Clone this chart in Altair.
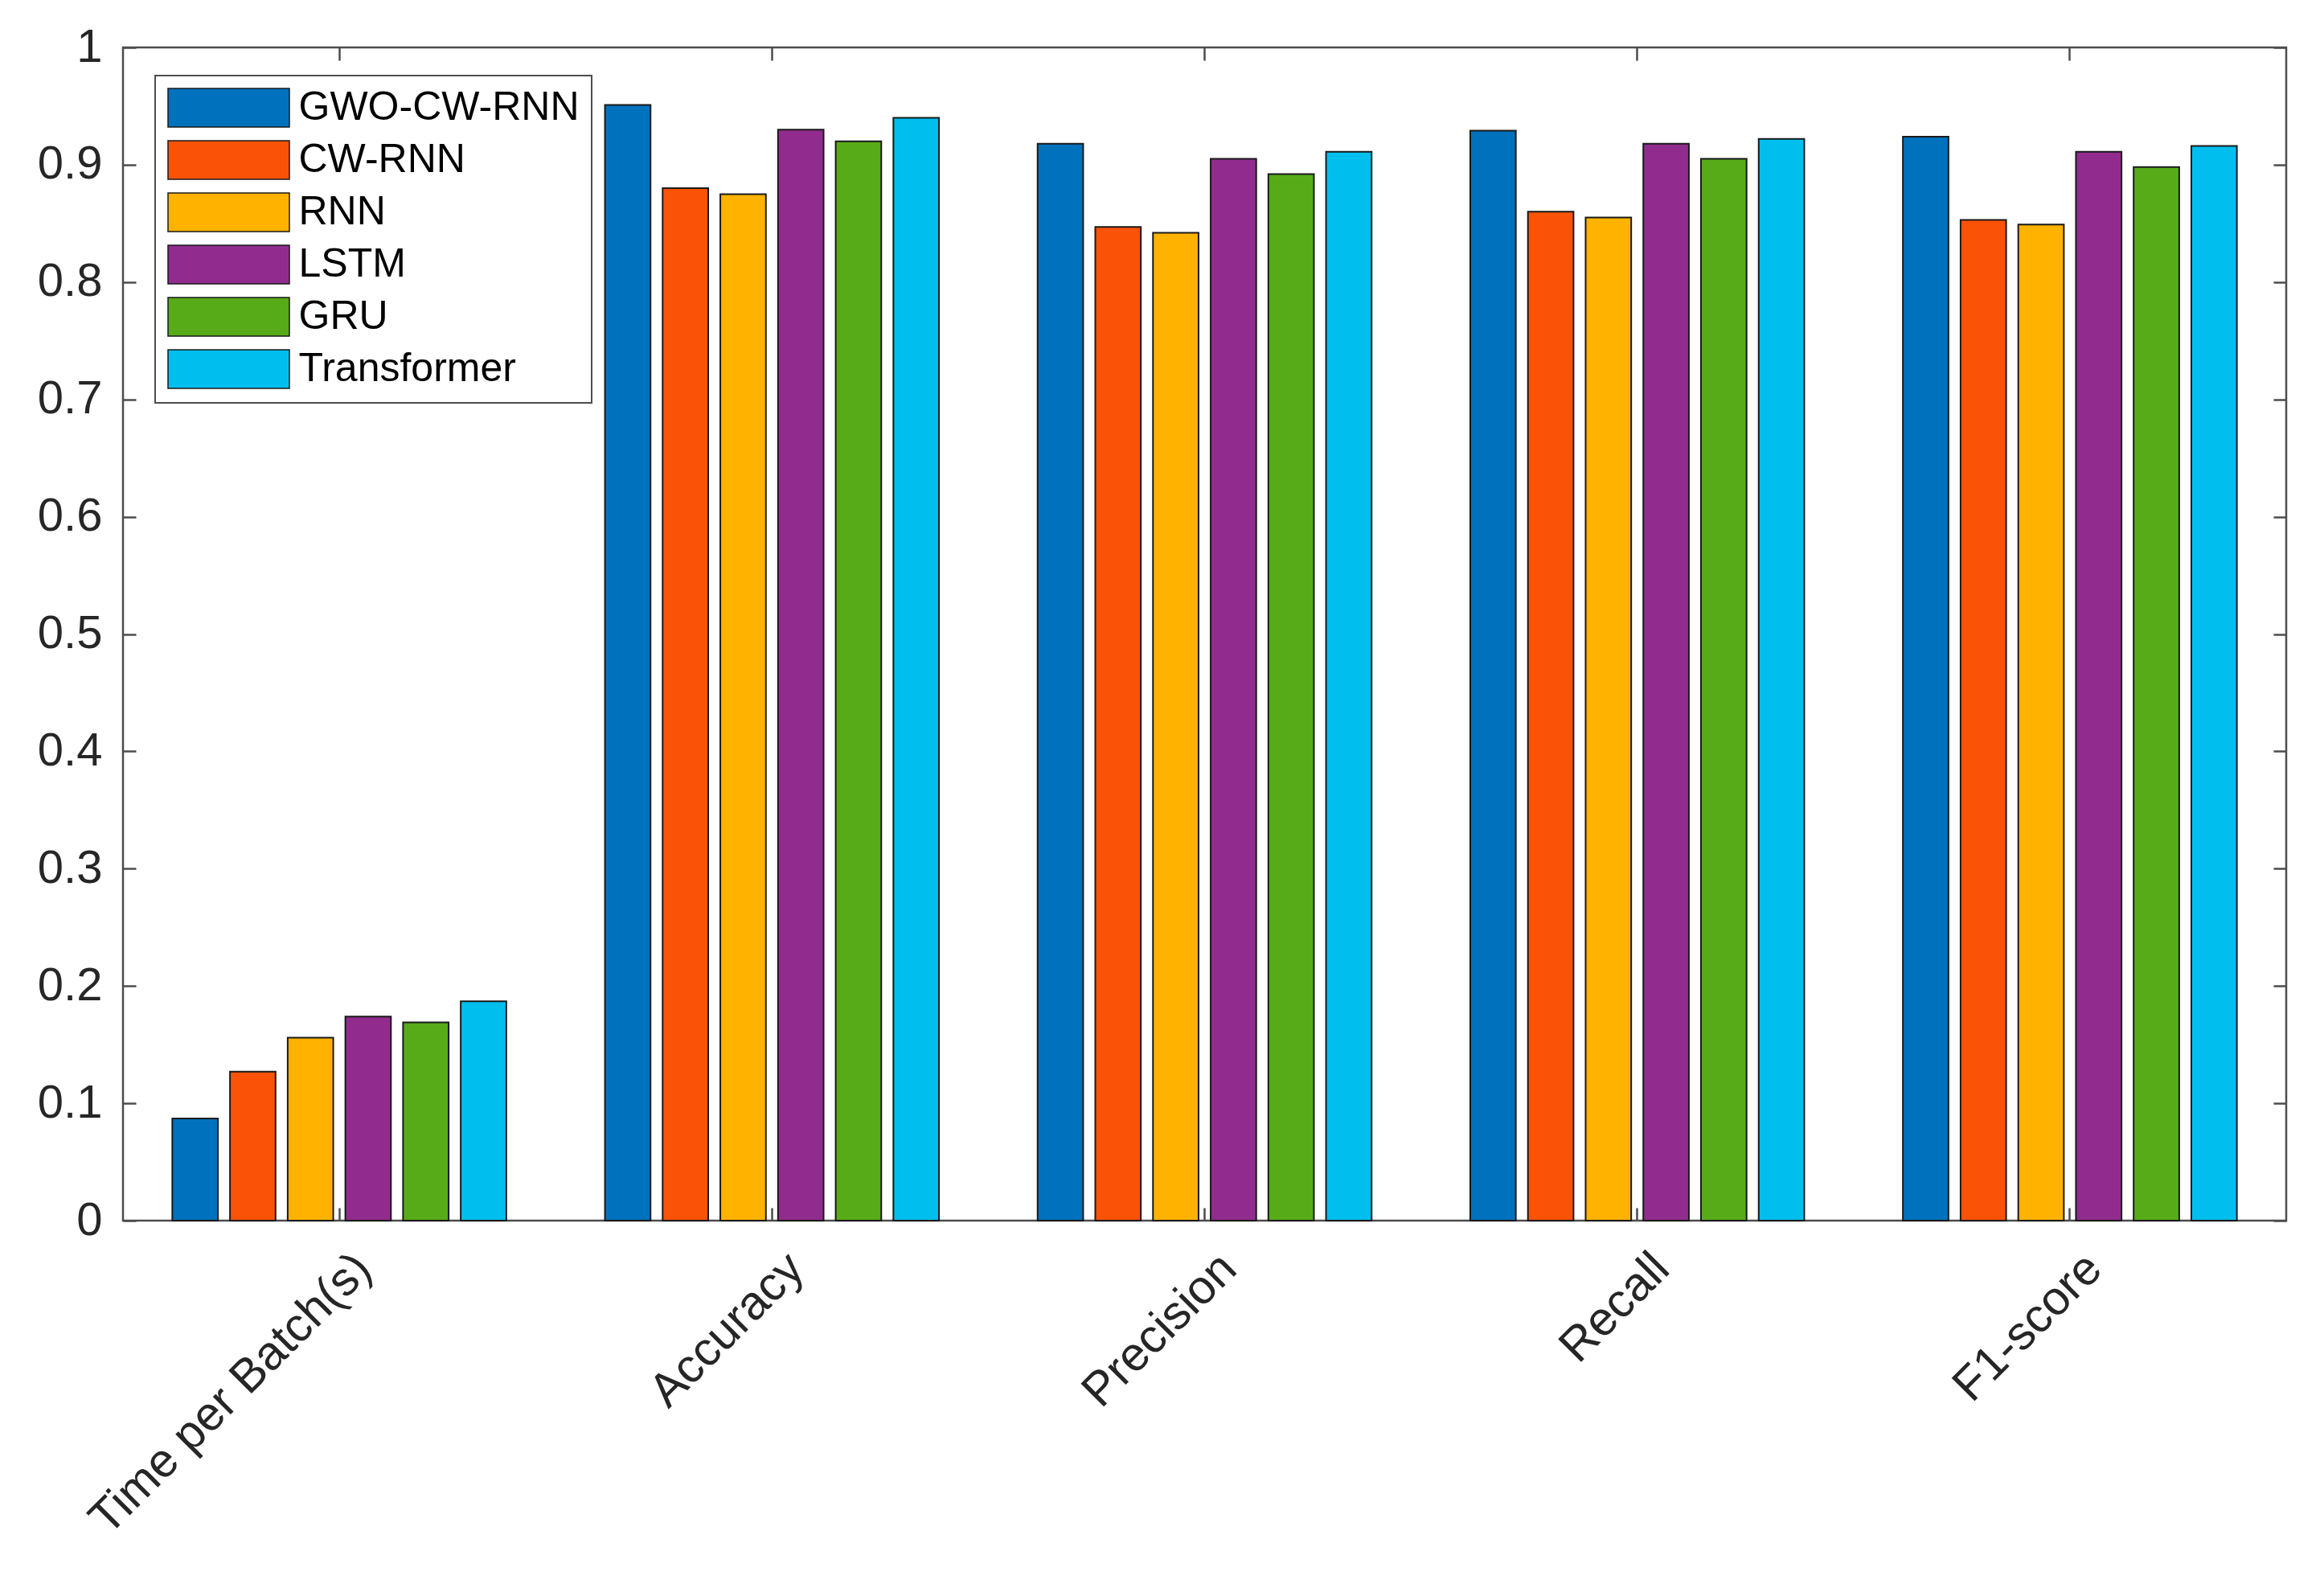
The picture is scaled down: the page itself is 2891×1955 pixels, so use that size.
import altair as alt
import pandas as pd

categories = ["Time per Batch(s)", "Accuracy", "Precision", "Recall", "F1-score"]
models = ["GWO-CW-RNN", "CW-RNN", "RNN", "LSTM", "GRU", "Transformer"]
colors = ["#0072BD", "#FA5308", "#FFB300", "#912C8E", "#57AB19", "#00BFEE"]

gwo_cw_rnn = [0.087, 0.951, 0.918, 0.929, 0.924]
cw_rnn = [0.127, 0.880, 0.847, 0.860, 0.853]
rnn = [0.156, 0.875, 0.842, 0.855, 0.849]
lstm = [0.174, 0.930, 0.905, 0.918, 0.911]
gru = [0.169, 0.920, 0.892, 0.905, 0.898]
transformer = [0.187, 0.940, 0.911, 0.922, 0.916]

y_ticks = [0, 0.1, 0.2, 0.3, 0.4, 0.5, 0.6, 0.7, 0.8, 0.9, 1.0]

series = [gwo_cw_rnn, cw_rnn, rnn, lstm, gru, transformer]
rows = []
for m, vals in zip(models, series):
    for c, v in zip(categories, vals):
        rows.append({"category": c, "model": m, "value": v})
df = pd.DataFrame(rows)

FONT = "Liberation Sans"
AX = "#4d4d4d"

x_scale = alt.Scale(paddingInner=0.2, paddingOuter=0.1)
y_scale = alt.Scale(domain=[0, 1], nice=False, zero=True)

legend_path = "M-3.146,-1H3.146V1H-3.146Z"

bars = alt.Chart(df).mark_bar(stroke="#1a1a1a", strokeWidth=2).encode(
    x=alt.X("category:N", sort=categories, scale=x_scale,
            axis=alt.Axis(orient="bottom", title=None, labelAngle=-45,
                          labelAlign="right", labelBaseline="middle",
                          labelOffset=30, labelPadding=50, offset=-16,
                          tickSize=16, domain=False, labelOverlap=False,
                          labelLimit=0, labelFontSize=59)),
    xOffset=alt.XOffset("model:N", sort=models,
                        scale=alt.Scale(paddingInner=0.21, paddingOuter=0.105)),
    y=alt.Y("value:Q", scale=y_scale,
            axis=alt.Axis(orient="left", title=None, values=y_ticks,
                          format=".1~f", offset=-16, tickSize=16,
                          domain=False, labelPadding=26, labelFontSize=58)),
    color=alt.Color("model:N", sort=models,
                    scale=alt.Scale(domain=models, range=colors),
                    legend=alt.Legend(orient="none", legendX=40, legendY=35,
                                      title=None, symbolType=legend_path,
                                      symbolSize=2304, symbolStrokeColor="#1a1a1a",
                                      symbolStrokeWidth=1.5, symbolOpacity=1,
                                      symbolOffset=51.5, labelOffset=62,
                                      labelFontSize=50, labelFont=FONT,
                                      labelColor="#000000", labelLimit=0,
                                      padding=15, rowPadding=11,
                                      strokeColor=AX, fillColor="white")),
)

frame = alt.Chart(df).mark_bar(opacity=0).encode(
    x=alt.X("category:N", sort=categories, scale=x_scale,
            axis=alt.Axis(orient="top", title=None, labels=False, offset=-16,
                          tickSize=16, domain=False)),
    y=alt.Y("value:Q", scale=y_scale,
            axis=alt.Axis(orient="right", title=None, labels=False,
                          values=y_ticks, offset=-16, tickSize=16,
                          domain=False)),
)

chart = alt.layer(bars, frame).resolve_axis(
    x="independent", y="independent"
).properties(
    width=2691, height=1459,
    padding={"left": 145, "top": 51, "right": 30, "bottom": 425},
    autosize=alt.AutoSizeParams(type="none"),
).configure_view(
    stroke=AX, strokeWidth=2.5
).configure_axis(
    labelFont=FONT, labelColor="#262626", tickColor=AX, tickWidth=2.5,
    grid=False
).configure_legend(
    strokeWidth=2
)

chart.save("out.html", embed_options={"renderer": "svg", "actions": False})
